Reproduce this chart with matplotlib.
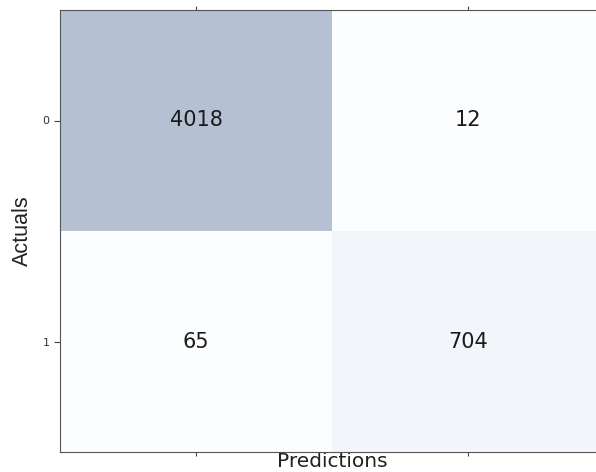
import numpy as np
import matplotlib.pyplot as plt

# confusion matrix values
labels = ["0", "1"]
cm = np.array([[4018, 12],
               [65, 704]])

fig = plt.figure(figsize=(5.96, 4.72), dpi=100)
ax = fig.add_axes([60/596, 20/472, 544/596, 442/472])

ax.matshow(cm, cmap=plt.cm.Blues, alpha=0.3, aspect='auto')

for i in range(cm.shape[0]):
    for j in range(cm.shape[1]):
        ax.text(j, i, str(cm[i, j]), va='center', ha='center',
                fontsize=15, color='#1a1a1a')

ax.set_xticks(range(len(labels)))
ax.set_yticks(range(len(labels)))
ax.set_yticklabels(labels, fontsize=8, color='#333333')
ax.tick_params(axis='x', top=True, bottom=True, labeltop=False,
               labelbottom=False, length=3, color='#444444')
ax.tick_params(axis='y', length=4, color='#444444')
for s in ax.spines.values():
    s.set_color('#555555')

ax.set_xlabel("Predictions", fontsize=14.5, color='#222222', labelpad=-3)
ax.set_ylabel("Actuals", fontsize=15.5, family='Liberation Sans',
              color='#222222', labelpad=7)

fig.savefig("out.png", dpi=100)
